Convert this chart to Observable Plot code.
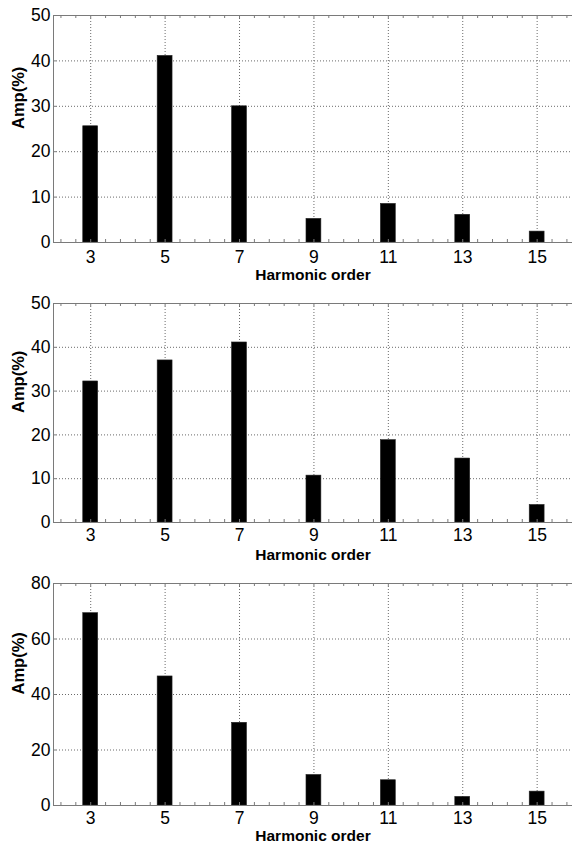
<!DOCTYPE html>
<html><head><meta charset="utf-8">
<script src="https://cdn.jsdelivr.net/npm/d3@7"></script>
<script src="https://cdn.jsdelivr.net/npm/@observablehq/plot@0.6"></script>
<style>
html,body{margin:0;padding:0;background:#fff;overflow:hidden}
#chart svg{display:block}
</style></head><body><div id="chart"></div>
<script>
const orders = [3, 5, 7, 9, 11, 13, 15];
const amp1 = [25.6, 41.1, 30.0, 5.2, 8.5, 6.1, 2.4];
const amp2 = [32.2, 37.0, 41.1, 10.7, 18.8, 14.6, 4.0];
const amp3 = [69.3, 46.5, 29.8, 11.0, 9.1, 3.1, 5.0];
const yTicks1 = [0, 10, 20, 30, 40, 50];
const yTicks2 = [0, 10, 20, 30, 40, 50];
const yTicks3 = [0, 20, 40, 60, 80];
const xTicks = [3, 5, 7, 9, 11, 13, 15];
const xMinorTicks = d3.range(0, 35).map(k => +(2.2 + 0.4 * k).toFixed(1));
const xDomain = [2, 15.95];
const xLabel = "Harmonic order";
const yLabel = "Amp(%)";

const gridStyle = {stroke: "#6a6a6a", strokeOpacity: 1, strokeDasharray: "1,2"};
const axisColor = "#7a7a7a";
const font = "'Liberation Sans', Arial, sans-serif";

function panel(amp, yTicks, height, marginTop, marginBottom, tickPad, labelDy) {
  const rows = orders.map((o, i) => ({order: o, amp: amp[i]}));
  const yMax = yTicks[yTicks.length - 1];
  const x0 = xDomain[0];
  return Plot.plot({
    width: 572, height, marginTop, marginBottom, marginLeft: 53, marginRight: 0,
    style: {fontFamily: font, fontSize: "17.5px", color: "#000", background: "#fff"},
    x: {domain: xDomain},
    y: {domain: [0, yMax]},
    marks: [
      Plot.gridX(xTicks, gridStyle),
      Plot.gridY(yTicks, gridStyle),
      Plot.rectY(rows, {x1: d => d.order - 0.2, x2: d => d.order + 0.2, y: "amp", fill: "#000", stroke: "#222", strokeWidth: 0.6}),
      Plot.ruleX([x0], {stroke: axisColor}),
      Plot.ruleY([0, yMax], {stroke: axisColor}),
      Plot.ruleX(xMinorTicks, {x: d => d, y1: 0, y2: 0, insetTop: -3, stroke: axisColor}),
      Plot.ruleX(xMinorTicks, {x: d => d, y1: yMax, y2: yMax, insetBottom: -3, stroke: axisColor}),
      Plot.ruleY(yTicks, {y: d => d, x1: x0, x2: x0, insetRight: -3, stroke: axisColor}),
      Plot.axisX(xTicks, {anchor: "bottom", tickSize: 0, tickPadding: tickPad, tickFormat: d => String(d), label: null, fontSize: 17.5, fontFamily: font, fill: "#000"}),
      Plot.axisY(yTicks, {anchor: "left", tickSize: 0, tickPadding: 3, tickFormat: d => String(d), label: null, fontSize: 17.5, fontFamily: font, fill: "#000"}),
      Plot.text([xLabel], {text: d => d, frameAnchor: "bottom", dy: labelDy, lineAnchor: "bottom", fontWeight: "bold", fontSize: 15.5, fontFamily: font, fill: "#000"}),
      Plot.text([yLabel], {text: d => d, frameAnchor: "left", dx: -35, rotate: -90, fontWeight: "bold", fontSize: 16.5, fontFamily: font, fill: "#000"})
    ]
  });
}

const chart = document.getElementById("chart");
chart.append(panel(amp1, yTicks1, 283, 15, 41, 8, 37));
chart.append(panel(amp2, yTicks2, 280, 20, 41, 6, 37));
chart.append(panel(amp3, yTicks3, 281, 20, 39, 6, 35));
</script>
</body></html>
